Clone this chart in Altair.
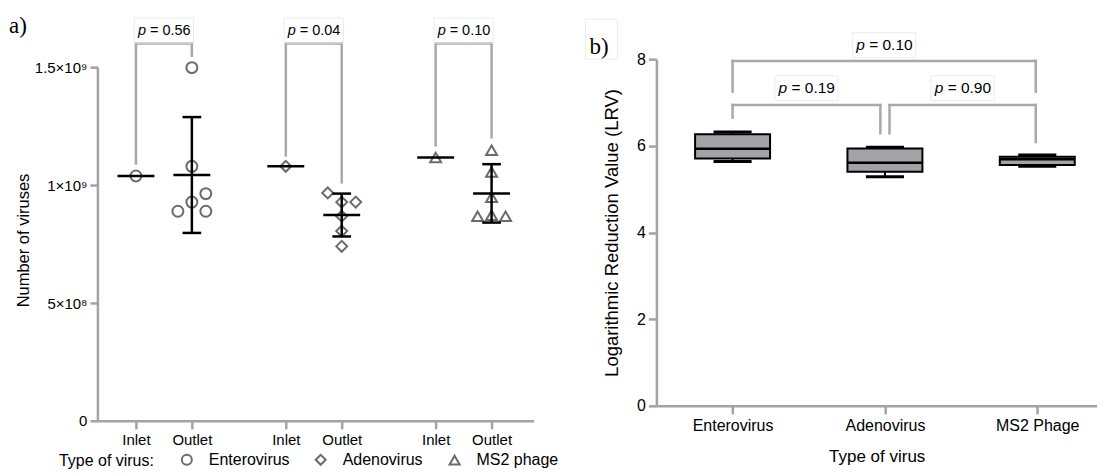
import altair as alt
import pandas as pd

# ---------------- Panel a data ----------------
viruses = ["Enterovirus", "Adenovirus", "MS2 phage"]
shapes = ["circle", "diamond", "triangle-up"]
inlet_values = [1.040e9, 1.081e9, 1.118e9]
entero_outlet = [1.500e9, 1.081e9, 0.965e9, 0.929e9, 0.890e9, 0.890e9]
adeno_outlet = [0.968e9, 0.929e9, 0.929e9, 0.869e9, 0.806e9, 0.741e9]
ms2_outlet = [1.149e9, 1.057e9, 0.950e9, 0.869e9, 0.873e9, 0.869e9]
entero_lane = [0, 0, 1, 0, -1, 1]
adeno_lane = [-1, 0, 1, 0, 0, 0]
ms2_lane = [0, 0, 0, -1, 0, 1]
outlet_mean = [1.044e9, 0.874e9, 0.966e9]
outlet_sd = [0.246e9, 0.091e9, 0.124e9]
p_values_a = ["0.56", "0.04", "0.10"]
bracket_inlet_end = [1.093e9, 1.127e9, 1.170e9]
bracket_outlet_end = [1.551e9, 1.013e9, 1.204e9]
bracket_top_a = 1.6025e9
p_label_y_a = 1.6576e9
sample_labels = ["Inlet", "Outlet"]
inlet_pos = [0.68, 3.36, 6.04]
y_ticks_a = [0, 5e8, 1e9, 1.5e9]
y_tick_labels_a = ["0", "5×10⁸", "1×10⁹", "1.5×10⁹"]

# ---------------- Panel b data ----------------
lrv_viruses = ["Enterovirus", "Adenovirus", "MS2 Phage"]
lrv_min = [5.64, 5.285, 5.53]
lrv_q1 = [5.71, 5.40, 5.555]
lrv_median = [5.93, 5.61, 5.69]
lrv_q3 = [6.27, 5.94, 5.746]
lrv_max = [6.32, 5.97, 5.786]
y_ticks_b = [0, 2, 4, 6, 8]
# brackets: (left x, right x, left leg end, right leg end, top, p value, label y)
brackets_b = [
    (1.0, 2.99, 7.25, 7.25, 7.96, "0.10", 8.324),
    (1.0, 1.97, 6.65, 6.29, 6.94, "0.19", 7.33),
    (2.03, 2.99, 6.29, 6.09, 6.94, "0.90", 7.33),
]

SANS = "Liberation Sans"
SERIF = "Liberation Serif"
AX = "#a3a3a3"
BR = "#a8a8a8"
PT = "#6b6b6b"
BOXC = "#ececec"

axis_style = dict(domainColor=AX, domainWidth=2.5, tickColor=AX, tickWidth=2.5,
                  tickSize=8, labelColor="#000", labelFont=SANS, titleFont=SANS,
                  titleFontWeight="normal", titleColor="#000", grid=False)

# ================= Panel a =================
jitter = 0.25
rows = []
outlets = [entero_outlet, adeno_outlet, ms2_outlet]
lanes = [entero_lane, adeno_lane, ms2_lane]
for g, v in enumerate(viruses):
    rows.append(dict(virus=v, x=inlet_pos[g], y=inlet_values[g]))
    for val, ln in zip(outlets[g], lanes[g]):
        rows.append(dict(virus=v, x=inlet_pos[g] + 1 + ln * jitter, y=val))
pts = pd.DataFrame(rows)

mean_rows, err_rows, cap_rows = [], [], []
for g in range(3):
    xi, xo = inlet_pos[g], inlet_pos[g] + 1
    mean_rows.append(dict(x=xi - 0.33, x2=xi + 0.33, y=inlet_values[g]))
    mean_rows.append(dict(x=xo - 0.33, x2=xo + 0.33, y=outlet_mean[g]))
    lo, hi = outlet_mean[g] - outlet_sd[g], outlet_mean[g] + outlet_sd[g]
    err_rows.append(dict(x=xo, y=lo, y2=hi))
    cap_rows.append(dict(x=xo - 0.167, x2=xo + 0.167, y=lo))
    cap_rows.append(dict(x=xo - 0.167, x2=xo + 0.167, y=hi))
means = pd.DataFrame(mean_rows)
errs = pd.DataFrame(err_rows)
caps = pd.DataFrame(cap_rows)

br_rows, lab_rows = [], []
for g in range(3):
    xi, xo = inlet_pos[g], inlet_pos[g] + 1
    br_rows.append(dict(x=xi, x2=xi, y=bracket_inlet_end[g], y2=bracket_top_a))
    br_rows.append(dict(x=xi, x2=xo, y=bracket_top_a, y2=bracket_top_a))
    br_rows.append(dict(x=xo, x2=xo, y=bracket_outlet_end[g], y2=bracket_top_a))
    cx = (xi + xo) / 2
    lab_rows.append(dict(x=cx, y=p_label_y_a, p="p", rest="= " + p_values_a[g],
                         bx=cx - 0.53, bx2=cx + 0.53,
                         by=p_label_y_a - 0.053e9, by2=p_label_y_a + 0.053e9))
brs_a = pd.DataFrame(br_rows)
labs_a = pd.DataFrame(lab_rows)

xs_a = alt.Scale(domain=[0, 7.79], nice=False, zero=False)
ys_a = alt.Scale(domain=[0, 1.536e9], nice=False, zero=True)

x_ticks_a = []
for p in inlet_pos:
    x_ticks_a += [p, p + 1]
inlet_arr = "[" + ",".join(str(p) for p in inlet_pos) + "]"
x_label_expr_a = f"indexof({inlet_arr}, datum.value) >= 0 ? '{sample_labels[0]}' : '{sample_labels[1]}'"
y_label_expr_a = ""
for v, lab in zip(y_ticks_a, y_tick_labels_a):
    y_label_expr_a += f"datum.value == {v} ? '{lab}' : "
y_label_expr_a += "''"

x_axis_a = alt.Axis(values=x_ticks_a, labelExpr=x_label_expr_a, title=None,
                    labelFontSize=15, labelPadding=4, **axis_style)
y_axis_a = alt.Axis(values=y_ticks_a, labelExpr=y_label_expr_a, title="Number of viruses",
                    domain=False, labelFontSize=15, titleFontSize=16.5, labelPadding=3,
                    titlePadding=3, **axis_style)

points = alt.Chart(pts).mark_point(filled=False, strokeWidth=2, color=PT, size=120, opacity=1).encode(
    x=alt.X("x:Q", scale=xs_a, axis=x_axis_a),
    y=alt.Y("y:Q", scale=ys_a, axis=y_axis_a),
    shape=alt.Shape("virus:N", scale=alt.Scale(domain=viruses, range=shapes),
                    legend=alt.Legend(orient="none", legendX=-39, legendY=393,
                                      direction="horizontal", title="Type of virus:",
                                      titleOrient="left", titleFont=SANS, titleFontSize=16,
                                      titleFontWeight="normal", titleColor="#000",
                                      titlePadding=24, titleBaseline="middle",
                                      labelFont=SANS, labelFontSize=16, labelColor="#000",
                                      labelOffset=14, columnPadding=22,
                                      symbolStrokeColor=PT, symbolFillColor="transparent",
                                      symbolStrokeWidth=2, symbolSize=100)),
)

# invisible anchor that pins the top-left corner of the whole drawing
anchor = alt.Chart(pd.DataFrame({"t": [0]})).mark_rect(opacity=0).encode(
    x=alt.value(-90), x2=alt.value(-89), y=alt.value(-51), y2=alt.value(-50))

yaxis_line = alt.Chart(pd.DataFrame({"x": [0], "y": [0], "y2": [y_ticks_a[-1]]})).mark_rule(
    color=AX, strokeWidth=2.5).encode(x=alt.X("x:Q", scale=xs_a), y=alt.Y("y:Q", scale=ys_a), y2="y2:Q")

mean_lines = alt.Chart(means).mark_rule(color="#000", strokeWidth=2.5).encode(
    x=alt.X("x:Q", scale=xs_a), x2="x2:Q", y=alt.Y("y:Q", scale=ys_a))
err_lines = alt.Chart(errs).mark_rule(color="#000", strokeWidth=2.5).encode(
    x=alt.X("x:Q", scale=xs_a), y=alt.Y("y:Q", scale=ys_a), y2="y2:Q")
cap_lines = alt.Chart(caps).mark_rule(color="#000", strokeWidth=2.5).encode(
    x=alt.X("x:Q", scale=xs_a), x2="x2:Q", y=alt.Y("y:Q", scale=ys_a))
bracket_a = alt.Chart(brs_a).mark_rule(color=BR, strokeWidth=2.5, strokeCap="square").encode(
    x=alt.X("x:Q", scale=xs_a), x2="x2:Q", y=alt.Y("y:Q", scale=ys_a), y2="y2:Q")
labbox_a = alt.Chart(labs_a).mark_rect(fill=None, stroke=BOXC, strokeWidth=1).encode(
    x=alt.X("bx:Q", scale=xs_a), x2="bx2:Q", y=alt.Y("by:Q", scale=ys_a), y2="by2:Q")
p_a = alt.Chart(labs_a).mark_text(font=SANS, fontSize=14.5, fontStyle="italic", align="left",
                                  baseline="middle", dx=-26).encode(
    x=alt.X("x:Q", scale=xs_a), y=alt.Y("y:Q", scale=ys_a), text="p:N")
rest_a = alt.Chart(labs_a).mark_text(font=SANS, fontSize=14.5, align="left",
                                     baseline="middle", dx=-14).encode(
    x=alt.X("x:Q", scale=xs_a), y=alt.Y("y:Q", scale=ys_a), text="rest:N")
title_a = alt.Chart(pd.DataFrame({"t": ["a)"]})).mark_text(
    font=SERIF, fontSize=23, align="left", baseline="middle").encode(
    x=alt.value(-89), y=alt.value(-33), text="t:N")

panel_a = alt.layer(points, anchor, yaxis_line, mean_lines, err_lines, cap_lines, bracket_a,
                    labbox_a, p_a, rest_a, title_a).properties(width=436, height=362)

# ================= Panel b =================
bw, cw = 0.246, 0.125
box = pd.DataFrame({
    "virus": lrv_viruses,
    "x": [1, 2, 3],
    "mn": lrv_min, "q1": lrv_q1, "med": lrv_median, "q3": lrv_q3, "mx": lrv_max,
})
box["xl"] = box["x"] - bw
box["xr"] = box["x"] + bw
box["cl"] = box["x"] - cw
box["cr"] = box["x"] + cw

xs_b = alt.Scale(domain=[0.5, 3.392], nice=False, zero=False)
ys_b = alt.Scale(domain=[0, 8], nice=False)

names_arr = "[" + ",".join(f"'{n}'" for n in lrv_viruses) + "]"
x_axis_b = alt.Axis(values=[1, 2, 3], labelExpr=f"{names_arr}[datum.value - 1]",
                    title="Type of virus", labelFontSize=16, titleFontSize=17,
                    labelPadding=4, titlePadding=15, **axis_style)
y_axis_b = alt.Axis(values=y_ticks_b, title="Logarithmic Reduction Value (LRV)",
                    labelFontSize=16, titleFontSize=18.5, labelPadding=3, titlePadding=15,
                    **axis_style)

whisk_hi = alt.Chart(box).mark_rule(color="#000", strokeWidth=2).encode(
    x=alt.X("x:Q", scale=xs_b, axis=x_axis_b), y=alt.Y("q3:Q", scale=ys_b, axis=y_axis_b), y2="mx:Q")
whisk_lo = alt.Chart(box).mark_rule(color="#000", strokeWidth=2).encode(
    x=alt.X("x:Q", scale=xs_b), y=alt.Y("mn:Q", scale=ys_b), y2="q1:Q")
rects = alt.Chart(box).mark_rect(fill="#a3a3a7", stroke="#000", strokeWidth=2).encode(
    x=alt.X("xl:Q", scale=xs_b), x2="xr:Q", y=alt.Y("q1:Q", scale=ys_b), y2="q3:Q")
med = alt.Chart(box).mark_rule(color="#000", strokeWidth=2.5).encode(
    x=alt.X("xl:Q", scale=xs_b), x2="xr:Q", y=alt.Y("med:Q", scale=ys_b))
cap_hi = alt.Chart(box).mark_rule(color="#000", strokeWidth=3).encode(
    x=alt.X("cl:Q", scale=xs_b), x2="cr:Q", y=alt.Y("mx:Q", scale=ys_b))
cap_lo = alt.Chart(box).mark_rule(color="#000", strokeWidth=3).encode(
    x=alt.X("cl:Q", scale=xs_b), x2="cr:Q", y=alt.Y("mn:Q", scale=ys_b))

brb_rows, labb_rows = [], []
for (xl, xr, yl, yr, top, pv, ly) in brackets_b:
    brb_rows.append(dict(x=xl, x2=xl, y=yl, y2=top))
    brb_rows.append(dict(x=xl, x2=xr, y=top, y2=top))
    brb_rows.append(dict(x=xr, x2=xr, y=yr, y2=top))
    cx = (xl + xr) / 2
    labb_rows.append(dict(x=cx, y=ly, p="p", rest="= " + pv, bx=cx - 0.207, bx2=cx + 0.207,
                          by=ly - 0.288, by2=ly + 0.288))
brs_b = pd.DataFrame(brb_rows)
labs_b = pd.DataFrame(labb_rows)

bracket_b = alt.Chart(brs_b).mark_rule(color=BR, strokeWidth=2.5, strokeCap="square").encode(
    x=alt.X("x:Q", scale=xs_b), x2="x2:Q", y=alt.Y("y:Q", scale=ys_b), y2="y2:Q")
labbox_b = alt.Chart(labs_b).mark_rect(fill=None, stroke=BOXC, strokeWidth=1).encode(
    x=alt.X("bx:Q", scale=xs_b), x2="bx2:Q", y=alt.Y("by:Q", scale=ys_b), y2="by2:Q")
p_b = alt.Chart(labs_b).mark_text(font=SANS, fontSize=15.5, fontStyle="italic", align="left",
                                  baseline="middle", dx=-28).encode(
    x=alt.X("x:Q", scale=xs_b), y=alt.Y("y:Q", scale=ys_b), text="p:N")
rest_b = alt.Chart(labs_b).mark_text(font=SANS, fontSize=15.5, align="left",
                                     baseline="middle", dx=-15).encode(
    x=alt.X("x:Q", scale=xs_b), y=alt.Y("y:Q", scale=ys_b), text="rest:N")
title_b = alt.Chart(pd.DataFrame({"t": ["b)"]})).mark_text(
    font=SERIF, fontSize=23, align="left", baseline="middle").encode(
    x=alt.value(-67), y=alt.value(-12), text="t:N")
title_b_box = alt.Chart(pd.DataFrame({"t": ["b)"]})).mark_rect(
    fill=None, stroke=BOXC, strokeWidth=1).encode(
    x=alt.value(-71), x2=alt.value(-39), y=alt.value(-40), y2=alt.value(0))

panel_b = alt.layer(whisk_hi, whisk_lo, rects, med, cap_hi, cap_lo, bracket_b, labbox_b,
                    p_b, rest_b, title_b_box, title_b).properties(width=441, height=347)

chart = alt.hconcat(panel_a, panel_b, spacing=123, bounds="flush").properties(
    padding={"left": 0, "top": 0, "right": 0, "bottom": 0}
).configure_view(stroke=None)

chart.save("out.html", embed_options={"renderer": "svg", "actions": False})
